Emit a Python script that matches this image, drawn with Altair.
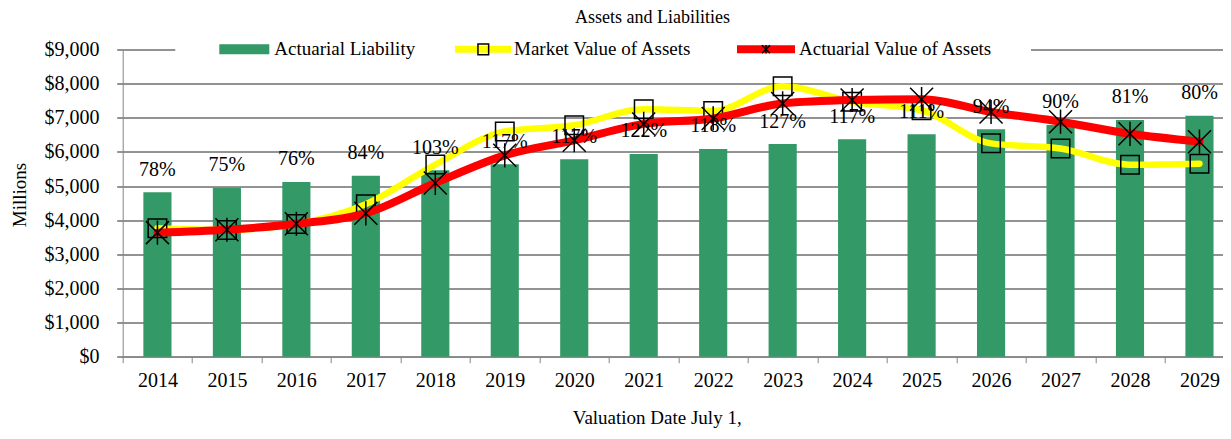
import altair as alt
import pandas as pd

# ---- data ----
years = ["2014", "2015", "2016", "2017", "2018", "2019", "2020", "2021",
         "2022", "2023", "2024", "2025", "2026", "2027", "2028", "2029"]
actuarial_liability = [4820, 4950, 5120, 5300, 5460, 5640, 5785, 5940,
                       6085, 6230, 6370, 6515, 6665, 6790, 6935, 7060]
market_value = [3765, 3715, 3890, 4470, 5630, 6600, 6780, 7250,
                7200, 7920, 7470, 7220, 6250, 6100, 5625, 5655]
actuarial_value = [3635, 3720, 3895, 4200, 5090, 5900, 6340, 6820,
                   6980, 7420, 7520, 7545, 7170, 6885, 6530, 6300]
funded_labels = ["78%", "75%", "76%", "84%", "103%", "117%", "117%", "122%",
                 "118%", "127%", "117%", "111%", "94%", "90%", "81%", "80%"]
y_ticks = [0, 1000, 2000, 3000, 4000, 5000, 6000, 7000, 8000, 9000]

df = pd.DataFrame({
    "year": years,
    "al": actuarial_liability,
    "mva": market_value,
    "ava": actuarial_value,
    "lbl": funded_labels,
})

FONT = "Liberation Serif"
GREEN = "#339966"
YELLOW = "#FFFF00"
RED = "#FF0000"
NB = "\u00a0"
ZW = "\u200b"


def pad_expr(n):
    # trailing blank space (kept from trimming by a zero-width char) widens the legend background
    return "datum.label + '" + NB * n + ZW + "'"


x_enc = alt.X(
    "year:O",
    title="Valuation Date July 1,",
    scale=alt.Scale(paddingInner=0, paddingOuter=0),
    axis=alt.Axis(
        labelAngle=0, tickBand="extent", grid=False,
        domainColor="#868686", tickColor="#868686", tickSize=6,
        labelFont=FONT, labelFontSize=20, labelColor="black", labelPadding=8,
        titleFont=FONT, titleFontSize=19, titleFontWeight="normal", titleColor="black",
        titleX=534, titleY=66.8, titleAlign="center", titleBaseline="alphabetic",
    ),
)

y_scale = alt.Scale(domain=[0, 9000], nice=False)
y_axis = alt.Axis(
    values=y_ticks, format="$,.0f",
    domainColor="#868686", tickColor="#262626", tickSize=6,
    gridColor="#262626", gridWidth=1,
    labelFont=FONT, labelFontSize=20, labelColor="black", labelPadding=17.7,
    titleFont=FONT, titleFontSize=19, titleFontWeight="normal", titleColor="black",
    titleX=-103.7, titleY=145, titleAlign="center", titleBaseline="middle", titleAngle=-90,
)


def y_enc(field):
    return alt.Y(f"{field}:Q", title="Millions", scale=y_scale, axis=y_axis)


LEG_Y = -9.7
common_leg = dict(orient="none", title=None, padding=0, labelFont=FONT,
                  labelFontSize=19, labelColor="black", labelLimit=400, legendY=LEG_Y)

base = alt.Chart(df)

bars = base.transform_calculate(s="'Actuarial Liability'").mark_bar(
    width=alt.RelativeBandSize(0.405)
).encode(
    x=x_enc, y=y_enc("al"),
    color=alt.Color("s:N", scale=alt.Scale(domain=["Actuarial Liability"], range=[GREEN]),
                    legend=alt.Legend(legendX=52.6, symbolType="M-5,-1H5V1H-5Z", symbolSize=100,
                                      symbolStrokeWidth=0, symbolOffset=59.5, labelOffset=20.5,
                                      fillColor="white", labelExpr=pad_expr(2),
                                      **common_leg)),
)

mva_line = base.transform_calculate(s="'Market Value of Assets'").mark_line(
    strokeWidth=6.5, interpolate="monotone", strokeCap="round", strokeJoin="round"
).encode(
    x=x_enc, y=y_enc("mva"),
    color=alt.Color("s:N", scale=alt.Scale(domain=["Market Value of Assets"], range=[YELLOW]),
                    legend=alt.Legend(legendX=293.3, symbolType="M-5.6,0H5.6", symbolSize=100,
                                      symbolStrokeWidth=7, symbolOffset=57.5, labelOffset=21.5,
                                      fillColor="white", labelExpr=pad_expr(3),
                                      **common_leg)),
)

mva_pts = base.transform_calculate(s="'Market Value of Assets'").mark_point(
    filled=False, color="black", strokeWidth=1.5, size=342, opacity=1
).encode(
    x=x_enc, y=y_enc("mva"),
    shape=alt.Shape("s:N", scale=alt.Scale(domain=["Market Value of Assets"], range=["square"]),
                    legend=alt.Legend(legendX=351.1, symbolSize=114, symbolStrokeWidth=1.5,
                                      symbolStrokeColor="black", symbolFillColor="transparent",
                                      labelExpr="''", **common_leg)),
)

ava_line = base.transform_calculate(s="'Actuarial Value of Assets'").mark_line(
    strokeWidth=8, interpolate="monotone", strokeCap="round", strokeJoin="round"
).encode(
    x=x_enc, y=y_enc("ava"),
    color=alt.Color("s:N", scale=alt.Scale(domain=["Actuarial Value of Assets"], range=[RED]),
                    legend=alt.Legend(legendX=570.3, symbolType="M-5.8,0H5.8", symbolSize=100,
                                      symbolStrokeWidth=8, symbolOffset=63.5, labelOffset=23.5,
                                      fillColor="white", labelExpr=pad_expr(8),
                                      **common_leg)),
)

STAR = "M-1,-1L1,1M-1,1L1,-1M0,-1.05L0,1.05"
ava_pts = base.transform_calculate(s="'Actuarial Value of Assets'").mark_point(
    filled=False, color="black", strokeWidth=1.5, size=529, opacity=1
).encode(
    x=x_enc, y=y_enc("ava"),
    shape=alt.Shape("s:N", scale=alt.Scale(domain=["Actuarial Value of Assets"], range=[STAR]),
                    legend=alt.Legend(legendX=633.8, symbolSize=64, symbolStrokeWidth=1.5,
                                      symbolStrokeColor="black", symbolFillColor="transparent",
                                      labelExpr="''", **common_leg)),
)

labels = base.mark_text(
    font=FONT, fontSize=20, color="black", baseline="middle", align="center", dy=-22.5
).encode(
    x=x_enc, y=y_enc("al"), text="lbl:N",
)

chart = alt.layer(bars, mva_line, mva_pts, ava_line, ava_pts, labels).resolve_scale(
    color="independent", shape="independent"
).properties(
    width=1111.5,
    height=307.2,
    autosize=alt.AutoSizeParams(type="none"),
    padding={"left": 114.7, "top": 41.5, "right": -11.2, "bottom": 71.3},
    title=alt.TitleParams(
        "Assets and Liabilities", font=FONT, fontSize=18, fontWeight="normal",
        color="black", anchor="middle", frame="group", dx=-26, dy=-9,
    ),
).configure_view(stroke=None)

chart.save("out.html", embed_options={"renderer": "svg", "actions": False})
